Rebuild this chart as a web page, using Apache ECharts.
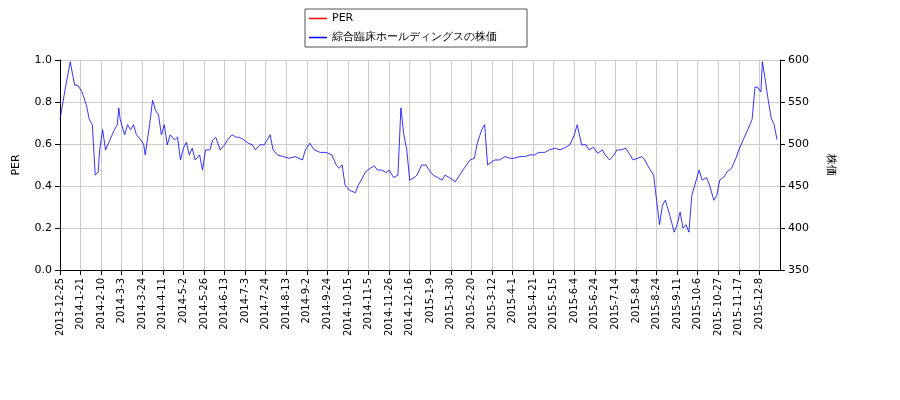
<!DOCTYPE html><html><head><meta charset="utf-8"><script src="https://cdn.jsdelivr.net/npm/echarts@6/dist/echarts.min.js"></script></head><body style="margin:0"><div id="c" style="width:900px;height:400px"></div><script>
const tickLabels=['2013-12-25','2014-1-21','2014-2-10','2014-3-3','2014-3-24','2014-4-11','2014-5-2','2014-5-26','2014-6-13','2014-7-3','2014-7-24','2014-8-13','2014-9-2','2014-9-24','2014-10-15','2014-11-5','2014-11-26','2014-12-16','2015-1-9','2015-1-30','2015-2-20','2015-3-12','2015-4-1','2015-4-21','2015-5-15','2015-6-4','2015-6-24','2015-7-14','2015-8-4','2015-8-24','2015-9-11','2015-10-6','2015-10-27','2015-11-17','2015-12-8'];
const dayIndex=[0,1,4,7,8,10,12,15,18,20,22,24,26,27,29,31,34,37,39,40,41,44,46,48,50,52,55,57,58,61,63,65,67,69,71,73,75,78,80,82,84,86,88,90,92,95,97,99,102,104,106,109,112,114,117,120,122,125,128,131,133,136,139,143,145,148,152,156,160,165,167,170,173,177,181,185,188,190,192,194,197,201,203,205,208,211,214,216,219,222,224,227,230,232,234,236,238,241,243,246,249,252,254,257,260,262,265,269,272,275,279,282,284,287,289,291,294,296,299,303,306,309,313,316,320,323,326,330,333,337,340,343,347,350,352,355,358,360,363,366,369,371,374,377,379,382,385,388,390,393,396,398,401,404,406,408,410,412,415,418,420,422,424,426,428,430,432,435,437,440,442,445,447,449,452,454,457,460,462,465,468,471,473,475,477,478,480,482,484,486,488];
const price=[529,540,570,598,588,570,570,562,546,529,523,463,467,493,517,493,505,517,523,543,529,511,523,517,523,511,505,499,487,523,552,540,535,511,523,499,511,505,508,481,495,502,487,495,481,487,469,493,493,505,508,493,499,505,511,508,508,505,501,499,493,499,499,511,493,487,485,483,485,481,493,501,493,490,490,487,475,471,475,451,445,442,451,457,467,471,474,469,469,466,469,460,463,543,511,493,457,460,463,475,475,467,463,460,457,463,460,455,463,471,481,483,501,517,523,475,479,481,481,485,483,483,485,485,487,487,490,490,493,495,493,495,499,511,523,499,499,493,496,489,493,487,481,487,493,493,495,487,481,483,485,481,471,463,433,404,427,433,415,395,404,419,400,404,395,439,451,469,457,460,451,433,439,457,461,467,471,483,493,505,517,529,568,567,562,598,576,552,531,523,505];
const per=[];
const f='DejaVu Sans';
echarts.init(document.getElementById('c')).setOption({
animation:false,textStyle:{fontFamily:f},
legend:{top:9,left:305,orient:'vertical',icon:'rect',itemWidth:18,itemHeight:1.5,borderColor:'#555',borderWidth:1,borderRadius:0,padding:[4,30,4,4],textStyle:{fontSize:11,fontFamily:f,color:'#000'},data:['PER','綜合臨床ホールディングスの株価']},
grid:{left:60,right:120,top:60,bottom:130},
xAxis:{type:'value',min:0,max:490,splitLine:{show:true,lineStyle:{color:'#ccc'}},axisLine:{lineStyle:{color:'#000'}},
 axisTick:{customValues:tickLabels.map((_,i)=>i*14),lineStyle:{color:'#000'}},
 axisLabel:{customValues:tickLabels.map((_,i)=>i*14),rotate:90,fontSize:10,color:'#000',formatter:v=>tickLabels[Math.round(v/14)]}},
yAxis:[{type:'value',min:0,max:1,interval:0.2,name:'PER',nameLocation:'middle',nameGap:38,nameTextStyle:{color:'#000',fontSize:11},axisLine:{show:true,lineStyle:{color:'#000'}},axisTick:{show:true},axisLabel:{color:'#000',fontSize:11,formatter:v=>v.toFixed(1)},splitLine:{lineStyle:{color:'#ccc'}}},
{type:'value',min:350,max:600,interval:50,name:'株価',nameLocation:'middle',nameGap:45,nameRotate:-90,nameTextStyle:{color:'#000',fontSize:11},axisLine:{show:true,lineStyle:{color:'#000'}},axisTick:{show:true},axisLabel:{color:'#000',fontSize:11},splitLine:{show:false}}],
series:[{name:'PER',type:'line',data:per,itemStyle:{color:'#ff0000'},lineStyle:{color:'#ff0000'}},
{name:'綜合臨床ホールディングスの株価',type:'line',yAxisIndex:1,showSymbol:false,symbol:'none',itemStyle:{color:'#0000ff'},lineStyle:{color:'#0000ff',width:0.8},data:dayIndex.map((d,i)=>[d,price[i]])}]
});
</script></body></html>
